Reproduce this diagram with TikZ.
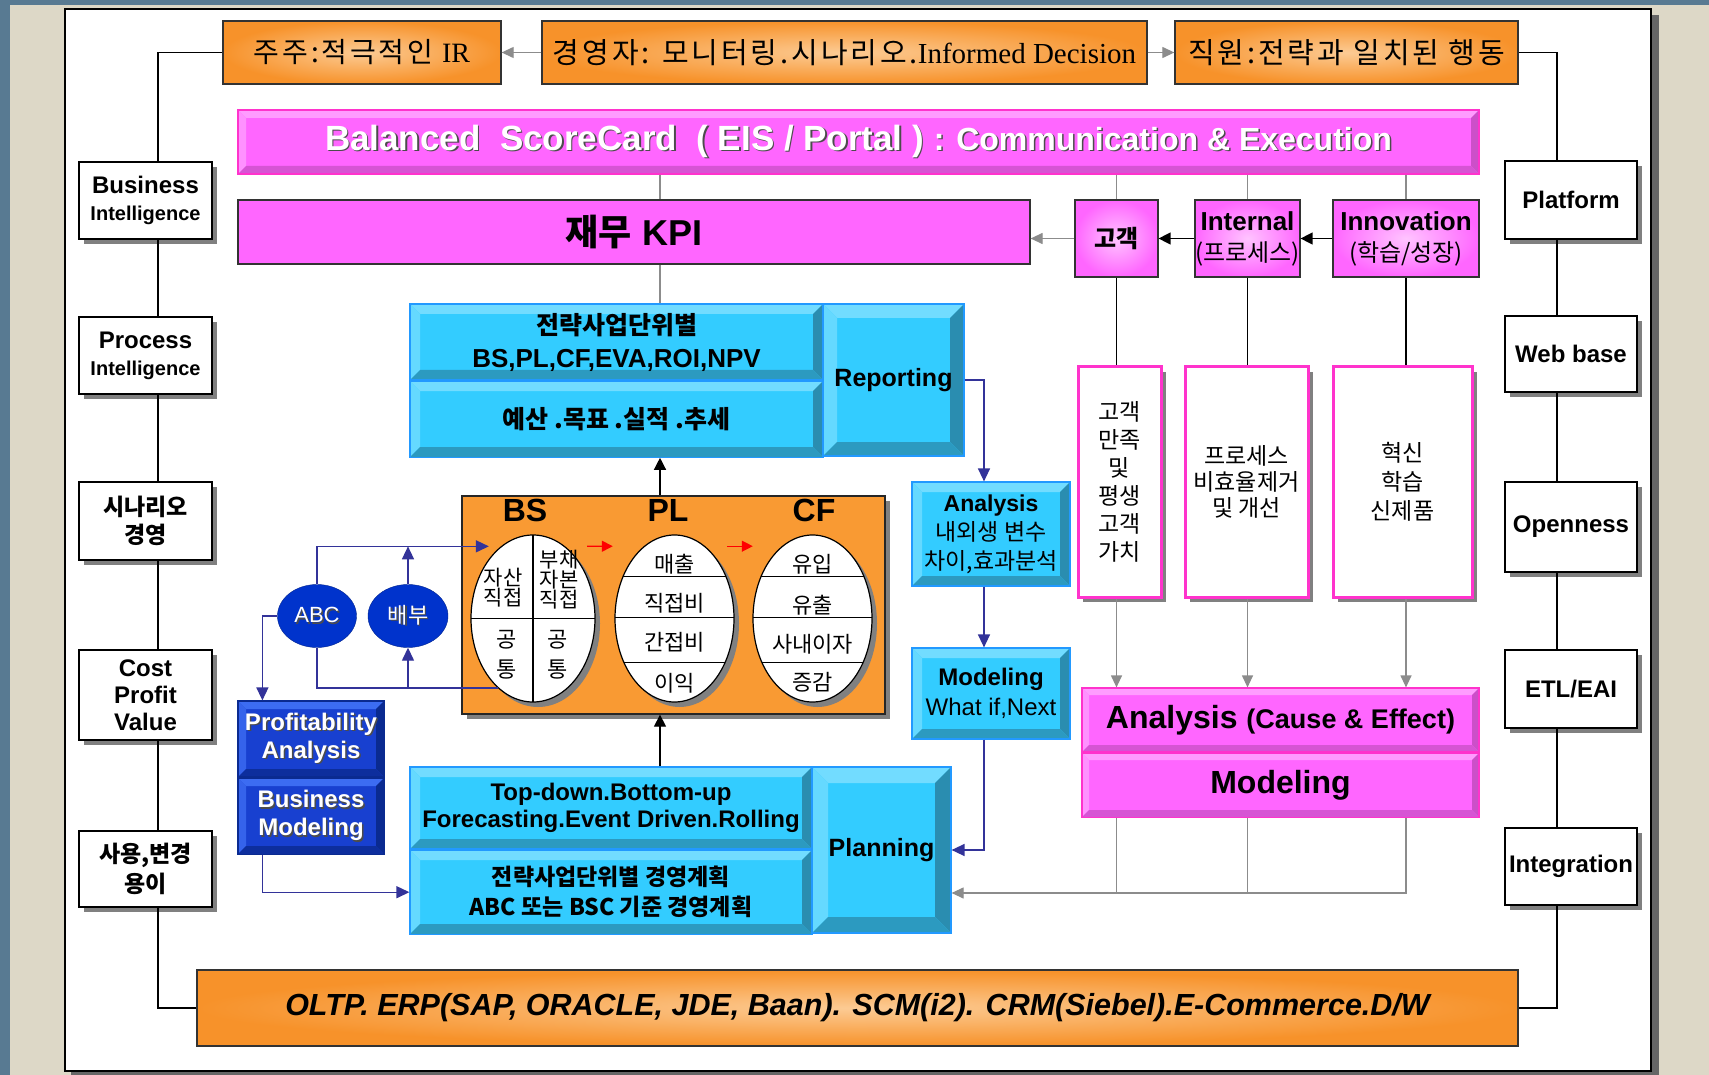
\documentclass[tikz,border=0pt]{standalone}
\usepackage{fontspec}
\setmainfont{Liberation Sans}
\newfontfamily\kr{Noto Sans CJK KR}
\newfontfamily\krsp[LetterSpace=10]{Noto Sans CJK KR}
\newfontfamily\tms{Liberation Serif}
\usetikzlibrary{positioning, arrows.meta, shapes.geometric, shadows, calc}
\definecolor{bgslate}{HTML}{587A92}
\definecolor{bgbeige}{HTML}{DDD8C7}
\definecolor{orgmain}{HTML}{F7922A}
\definecolor{orglight}{HTML}{FCCB94}
\definecolor{orgflat}{HTML}{F99A33}
\definecolor{pinkmain}{HTML}{FF66FF}
\definecolor{pinkglow}{HTML}{FFC4FF}
\definecolor{pinklight}{HTML}{FF9CFF}
\definecolor{pinkdark}{HTML}{CC4FC9}
\definecolor{pinkedge}{HTML}{FF33CC}
\definecolor{cyanmain}{HTML}{33CCFF}
\definecolor{cyanlight}{HTML}{72DCFF}
\definecolor{cyandark}{HTML}{2A8DB0}
\definecolor{cyanedge}{HTML}{2299FF}
\definecolor{navymain}{HTML}{1840D0}
\definecolor{navylight}{HTML}{3C6CF2}
\definecolor{navydark}{HTML}{0A2A90}
\definecolor{abcblue}{HTML}{0033CC}
\definecolor{flowblue}{HTML}{333399}
\definecolor{flowgray}{HTML}{8C8C8C}
\newcommand{\fsz}[2]{\fontsize{#1}{#2}\selectfont}
\newcommand{\shd}[1]{\leavevmode\rlap{\kern1.5pt\raisebox{-1.5pt}{\color{black!70}#1}}#1}

\begin{document}
\begin{tikzpicture}[
    x=1pt, y=-1pt,
    every node/.style={inner sep=0pt, align=center},
    bevel/.style n args={4}{
        fill=#1,
        path picture={
            \coordinate (bnw) at (path picture bounding box.north west);
            \coordinate (bse) at (path picture bounding box.south east);
            \coordinate (bne) at (bse |- bnw);
            \coordinate (bsw) at (bnw |- bse);
            \fill[#2] (bnw) -- (bne) -- ($(bne)+(-#4,-#4)$) -- ($(bnw)+(#4,-#4)$) -- cycle;
            \fill[#2!80!#1] (bnw) -- ($(bnw)+(#4,-#4)$) -- ($(bsw)+(#4,#4)$) -- (bsw) -- cycle;
            \fill[#3] (bne) -- (bse) -- ($(bse)+(-#4,#4)$) -- ($(bne)+(-#4,-#4)$) -- cycle;
            \fill[#3!80!#1] (bsw) -- (bse) -- ($(bse)+(-#4,#4)$) -- ($(bsw)+(#4,#4)$) -- cycle;
        }
    },
    shadowed/.style={drop shadow={shadow xshift=5pt, shadow yshift=-5pt, fill=black!50, opacity=1}},
    sidebox/.style={draw, fill=white, line width=1.3pt, minimum width=133pt, shadowed, font=\bfseries\fsz{24}{27}},
    orgbox/.style={draw=black!80, line width=1.3pt, inner color=orglight, outer color=orgmain},
    stmtbox/.style={draw=black!85, line width=1.3pt, fill=orgflat, shadowed},
    kpibox/.style={draw=black!80, line width=1.2pt, inner color=pinkglow, outer color=pinkmain},
    pinkbar/.style={draw=pinkedge, line width=1.2pt, bevel={pinkmain}{pinklight}{pinkdark}{#1}},
    pinkbar/.default=8pt,
    cyanbox/.style={draw=cyanedge, line width=1.2pt, bevel={cyanmain}{cyanlight}{cyandark}{#1}},
    cyanbox/.default=10pt,
    navybox/.style={draw=navydark, line width=1.2pt, bevel={navymain}{navylight}{navydark}{#1}, text=white},
    navybox/.default=8pt,
    valuebox/.style={draw=pinkedge, line width=3pt, fill=white, shadowed, font=\kr\fsz{23}{26}},
    ovalbox/.style={ellipse, draw, line width=1.2pt, fill=white, shadowed},
    blueoval/.style={ellipse, draw=abcblue!70!black, fill=abcblue, text=white, minimum height=63pt},
    celltext/.style={font=\kr\fsz{22}{24}},
    sideline/.style={line width=1.3pt, black},
    grayline/.style={line width=1.2pt, flowgray},
    grayarr/.style={grayline, -{Triangle[length=12pt,width=11pt]}},
    blackarr/.style={line width=1.3pt, -{Triangle[length=12pt,width=12pt]}},
    blueline/.style={line width=1.4pt, flowblue},
    bluearr/.style={blueline, -{Triangle[length=13pt,width=12pt]}},
    redarr/.style={line width=1.2pt, red, -{Triangle[length=11pt,width=11pt]}},
]
\useasboundingbox (0,0) rectangle (1709,1075);

% window and panel
\fill[bgslate] (0,0) rectangle (1709,1075);
\fill[bgbeige] (10,5) rectangle (1709,1075);
\fill[black!60] (71,15) rectangle (1659,1075);
\draw[fill=white, line width=1.5pt] (65,9) rectangle (1651,1071);

% stakeholders
\node[orgbox, minimum width=278pt, minimum height=63pt, font=\krsp\fsz{28}{30}] (ir) at (362,52.5) {주주:적극적인 {\tms IR}};
\node[orgbox, minimum width=605pt, minimum height=63pt, font=\krsp\fsz{29}{30}] (mgr) at (844.5,52.5) {경영자: 모니터링.시나리오.{\tms Informed Decision}};
\node[orgbox, minimum width=343pt, minimum height=63pt, font=\krsp\fsz{29}{30}] (emp) at (1346.5,52.5) {직원:전략과 일치된 행동};

% scorecard
\node[pinkbar, minimum width=1241pt, minimum height=64pt, text=white, font=\bfseries\fsz{35}{36}] (bsc) at (858.5,142)
    {\shd{Balanced\ \ ScoreCard\ \ ( EIS / Portal )}\ \fsz{32}{36}\shd{: Communication \& Execution}};
\node[draw=black!80, line width=1.2pt, fill=pinkmain, minimum width=792pt, minimum height=64pt, font=\bfseries\fsz{36}{40}] (kpi) at (634,232)
    {{\kr 재무} KPI};
\node[kpibox, minimum width=83pt, minimum height=77pt, font=\kr\bfseries\fsz{24}{26}] (cust) at (1116.5,238.5) {고객};
\node[kpibox, minimum width=105pt, minimum height=77pt, font=\bfseries\fsz{26}{31}] (intl) at (1247.5,238.5)
    {Internal\\{\kr\mdseries\fsz{24}{31}(프로세스)}};
\node[kpibox, minimum width=146pt, minimum height=77pt, font=\bfseries\fsz{26}{31}] (innov) at (1406,238.5)
    {Innovation\\{\kr\mdseries\fsz{24}{31}(학습/성장)}};

% left column
\node[sidebox, minimum height=77pt] (bi) at (145.5,200.5) {Business\\\fsz{20}{27}Intelligence};
\node[sidebox, minimum height=77pt] (pi) at (145.5,355.5) {Process\\\fsz{20}{27}Intelligence};
\node[sidebox, minimum height=78pt, font=\kr\bfseries\fsz{23}{28}] (sc) at (145.5,521) {시나리오\\경영};
\node[sidebox, minimum height=90pt] (cpv) at (145.5,695) {Cost\\Profit\\Value};
\node[sidebox, minimum height=76pt, font=\kr\bfseries\fsz{23}{30}] (ease) at (145.5,869) {사용,변경\\용이};

% right column
\node[sidebox, minimum width=132pt, minimum height=78pt] (plat) at (1571,200) {Platform};
\node[sidebox, minimum width=132pt, minimum height=76pt] (web) at (1571,354) {Web base};
\node[sidebox, minimum width=132pt, minimum height=90pt] (open) at (1571,527) {Openness};
\node[sidebox, minimum width=132pt, minimum height=78pt] (etl) at (1571,689) {ETL/EAI};
\node[sidebox, minimum width=132pt, minimum height=77pt] (integ) at (1571,866.5) {Integration};

% base systems
\node[orgbox, minimum width=1321pt, minimum height=76pt, font=\bfseries\itshape\fsz{30.5}{32}] (oltp) at (857.5,1008)
    {OLTP. ERP(SAP, ORACLE, JDE, Baan). SCM(i2). CRM(Siebel).E-Commerce.D/W};

% reporting block
\node[cyanbox, minimum width=413pt, minimum height=76pt, font=\bfseries\fsz{26}{33}] (rep1) at (616.5,342)
    {{\kr\fsz{25}{33}전략사업단위별}\\BS,PL,CF,EVA,ROI,NPV};
\node[cyanbox, minimum width=413pt, minimum height=76pt, below=0pt of rep1, font=\kr\bfseries\fsz{25}{28}] (rep2) {예산 .목표 .실적 .추세};
\node[cyanbox=14pt, minimum width=141pt, minimum height=152pt, font=\bfseries\fsz{25}{28}] (rep) at (893.5,380) {Reporting};

% statements
\node[stmtbox, minimum width=423pt, minimum height=218pt] (stmt) at (673.5,605) {};
\node[font=\bfseries\fsz{32}{34}] (bst) at (525,510) {BS};
\node[font=\bfseries\fsz{32}{34}] (plt) at (668,510) {PL};
\node[font=\bfseries\fsz{32}{34}] (cft) at (814,510) {CF};
\node[ovalbox, minimum width=124pt, minimum height=167pt,
      path picture={\draw[line width=1.2pt] (path picture bounding box.north) -- (path picture bounding box.south);
                    \draw[line width=1.2pt] (path picture bounding box.west) -- (path picture bounding box.east);}] (bsell) at (533,618.5) {};
\node[ovalbox, minimum width=119pt, minimum height=167pt,
      path picture={\foreach \dy in {42pt,1pt,-44pt}
                    \draw[line width=1.2pt] ([yshift=\dy]path picture bounding box.west) -- ([yshift=\dy]path picture bounding box.east);}] (plell) at (674.5,618.5) {};
\node[ovalbox, minimum width=119pt, minimum height=167pt,
      path picture={\foreach \dy in {42pt,1pt,-44pt}
                    \draw[line width=1.2pt] ([yshift=\dy]path picture bounding box.west) -- ([yshift=\dy]path picture bounding box.east);}] (cfell) at (812.5,618.5) {};
\node[celltext, font=\kr\fsz{21}{19}] (bs1) at (503,588) {자산\\직접};
\node[celltext, font=\kr\fsz{21}{19}] (bs2) at (559,580) {부채\\자본\\직접};
\node[celltext, font=\kr\fsz{22}{30}] (bs3) at (507,655) {공\\통};
\node[celltext, font=\kr\fsz{22}{30}] (bs4) at (558,655) {공\\통};
\node[celltext] (pl1) at (674.5,564) {매출};
\node[celltext] (pl2) at (674.5,603) {직접비};
\node[celltext] (pl3) at (674.5,642) {간접비};
\node[celltext] (pl4) at (674.5,683) {이익};
\node[celltext] (cf1) at (812.5,564) {유입};
\node[celltext] (cf2) at (812.5,605) {유출};
\node[celltext] (cf3) at (812.5,644) {사내이자};
\node[celltext] (cf4) at (812.5,682) {증감};

% allocation
\node[blueoval, minimum width=79pt, font=\fsz{22}{24}] (abc) at (317,616) {\shd{ABC}};
\node[blueoval, minimum width=80pt, font=\kr\fsz{22}{24}] (baebu) at (408,616) {\shd{배부}};
\node[navybox, minimum width=146pt, minimum height=76pt, font=\bfseries\fsz{24}{28}] (prof) at (311,739)
    {\shd{Profitability}\\\shd{Analysis}};
\node[navybox, minimum width=146pt, minimum height=76pt, below=0pt of prof, font=\bfseries\fsz{24}{28}] (bmod)
    {\shd{Business}\\\shd{Modeling}};

% planning block
\node[cyanbox, minimum width=402pt, minimum height=82pt, font=\bfseries\fsz{24}{27}] (plan1) at (611,808)
    {Top-down.Bottom-up\\Forecasting.Event Driven.Rolling};
\node[cyanbox, minimum width=402pt, minimum height=84pt, below=0pt of plan1, font=\kr\bfseries\fsz{23}{30}] (plan2)
    {전략사업단위별 경영계획\\ABC 또는 BSC 기준 경영계획};
\node[cyanbox=16pt, minimum width=139pt, minimum height=166pt, font=\bfseries\fsz{25}{28}] (plan) at (881.5,850) {Planning};

% analysis and modeling
\node[cyanbox, minimum width=158pt, minimum height=104pt, font=\kr\fsz{23}{29}] (vanl) at (991,534)
    {{\rmfamily\bfseries Analysis}\\내외생 변수\\차이,효과분석};
\node[cyanbox, minimum width=158pt, minimum height=91pt, font=\fsz{24}{30}] (vmod) at (991,693.5)
    {\textbf{Modeling}\\What if,Next};

% perspectives
\node[valuebox, minimum width=83pt, minimum height=230pt, font=\kr\fsz{23}{28}] (cs) at (1119.5,482) {고객\\만족\\및\\평생\\고객\\가치};
\node[valuebox, minimum width=123pt, minimum height=230pt] (pr) at (1246.5,482) {프로세스\\비효율제거\\및 개선};
\node[valuebox, minimum width=139pt, minimum height=230pt, font=\kr\fsz{23}{29}] (inn) at (1402.5,482) {혁신\\학습\\신제품};
\node[pinkbar=7pt, minimum width=397pt, minimum height=64pt, font=\bfseries\fsz{32}{34}] (causeanl) at (1280.5,720)
    {Analysis \fsz{27}{34}(Cause \& Effect)};
\node[pinkbar=7pt, minimum width=397pt, minimum height=64pt, below=0pt of causeanl, font=\bfseries\fsz{32}{34}] (causemod)
    {Modeling};

% axes of the connectors
\coordinate (lx) at (158,0);
\coordinate (rx) at (1557,0);
\coordinate (ax) at (660,0);
\coordinate (bx) at (984,0);
\coordinate (gy) at (0,893);

% side rails
\draw[sideline] (ir.west) -| (bi.north -| lx);
\draw[sideline] (bi.south -| lx) -- (pi.north -| lx);
\draw[sideline] (pi.south -| lx) -- (sc.north -| lx);
\draw[sideline] (sc.south -| lx) -- (cpv.north -| lx);
\draw[sideline] (cpv.south -| lx) -- (ease.north -| lx);
\draw[sideline] (ease.south -| lx) |- (oltp.west);
\draw[sideline] (emp.east) -| (plat.north -| rx);
\draw[sideline] (plat.south -| rx) -- (web.north -| rx);
\draw[sideline] (web.south -| rx) -- (open.north -| rx);
\draw[sideline] (open.south -| rx) -- (etl.north -| rx);
\draw[sideline] (etl.south -| rx) -- (integ.north -| rx);
\draw[sideline] (integ.south -| rx) |- (oltp.east);

% top flows
\draw[grayarr] (mgr) -- (ir);
\draw[grayarr] (mgr) -- (emp);
\draw[grayline] (bsc.south -| ax) -- (kpi.north -| ax);
\draw[grayline] (kpi.south -| ax) -- (rep1.north -| ax);
\draw[grayline] (cust.north |- bsc.south) -- (cust.north);
\draw[grayline] (intl.north |- bsc.south) -- (intl.north);
\draw[grayline] (innov.north |- bsc.south) -- (innov.north);
\draw[blackarr] (innov) -- (intl);
\draw[blackarr] (intl) -- (cust);
\draw[grayarr] (cust.west) -- (cust.west -| kpi.east);
\draw[sideline] (cust.south) -- (cust.south |- cs.north);
\draw[sideline] (intl.south) -- (intl.south |- pr.north);
\draw[sideline] (innov.south) -- (innov.south |- inn.north);
\draw[grayarr] (cust.south |- cs.south) -- (cust.south |- causeanl.north);
\draw[grayarr] (intl.south |- pr.south) -- (intl.south |- causeanl.north);
\draw[grayarr] (innov.south |- inn.south) -- (innov.south |- causeanl.north);
\draw[grayline] (cust.south |- causemod.south) -- (cust.south |- gy);
\draw[grayline] (intl.south |- causemod.south) -- (intl.south |- gy);
\draw[grayarr] (innov.south |- causemod.south) |- (plan.east |- gy);

% centre flows
\draw[blackarr] (stmt.north -| ax) -- (rep2.south -| ax);
\draw[blackarr] (plan1.north -| ax) -- (stmt.south -| ax);
\draw[redarr] ([xshift=22pt]bsell.66) -- ([xshift=-31pt]plell.113);
\draw[redarr] ([xshift=22pt]plell.67) -- ([xshift=-29pt]cfell.113);
\draw[bluearr, shorten >=12pt] (abc.north) |- (bsell.114);
\draw[bluearr] (baebu.north) -- (baebu.north |- bsell.114);
\draw[blueline] (abc.south) |- (bsell.243);
\draw[bluearr] (baebu.south |- bsell.243) -- (baebu.south);
\draw[bluearr] (abc.west) -| ([xshift=25pt]prof.north west);
\draw[bluearr] ([xshift=25pt]bmod.south west) |- (plan2.west);
\draw[bluearr] (rep.east) -| (vanl.north -| bx);
\draw[bluearr] (vanl.south -| bx) -- (vmod.north -| bx);
\draw[bluearr] (vmod.south -| bx) |- (plan.east);
\end{tikzpicture}
\end{document}
